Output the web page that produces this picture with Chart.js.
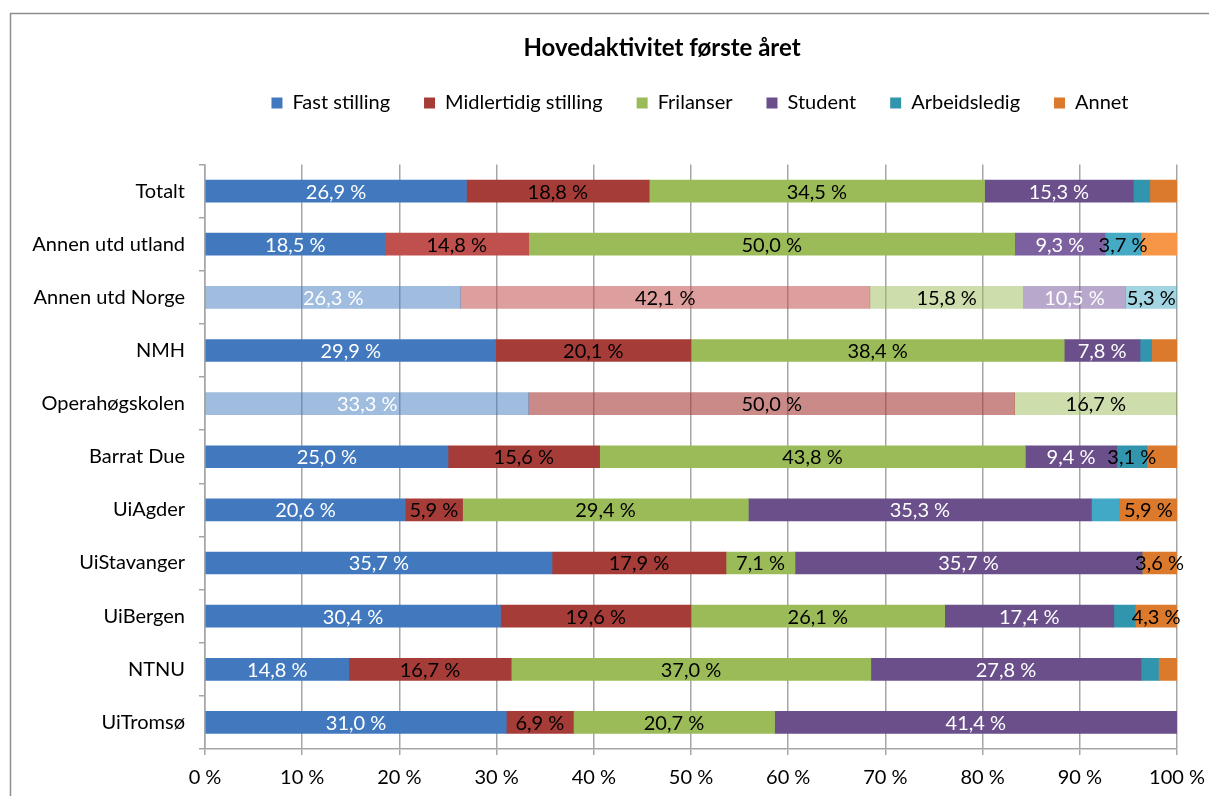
<!DOCTYPE html>
<html>
<head>
<meta charset="utf-8">
<script src="https://cdn.jsdelivr.net/npm/chart.js@4.4.0/dist/chart.umd.min.js"></script>
<style>
  html, body { margin: 0; padding: 0; background: #fff; }
  #wrap { width: 1209px; height: 796px; }
</style>
</head>
<body>
<div id="wrap"><canvas id="chart"></canvas></div>
<script>
const categories = ['Totalt', 'Annen utd utland', 'Annen utd Norge', 'NMH', 'Operahøgskolen',
  'Barrat Due', 'UiAgder', 'UiStavanger', 'UiBergen', 'NTNU', 'UiTromsø'];
const seriesNames = ['Fast stilling', 'Midlertidig stilling', 'Frilanser', 'Student', 'Arbeidsledig', 'Annet'];

const fastStilling = [26.9, 18.5, 26.3, 29.9, 33.3, 25.0, 20.6, 35.7, 30.4, 14.8, 31.0];
const midlertidig  = [18.8, 14.8, 42.1, 20.1, 50.0, 15.6, 5.9, 17.9, 19.6, 16.7, 6.9];
const frilanser    = [34.5, 50.0, 15.8, 38.4, 16.7, 43.8, 29.4, 7.1, 26.1, 37.0, 20.7];
const student      = [15.3, 9.3, 10.5, 7.8, 0, 9.4, 35.3, 35.7, 17.4, 27.8, 41.4];
const arbeidsledig = [1.7, 3.7, 5.3, 1.2, 0, 3.1, 2.9, 0, 2.2, 1.8, 0];
const annet        = [2.8, 3.7, 0, 2.6, 0, 3.1, 5.9, 3.6, 4.3, 1.9, 0];

const xTicks = [0, 10, 20, 30, 40, 50, 60, 70, 80, 90, 100];

// segments where the original had no data label
const hiddenLabels = {
  'Totalt': [4, 5], 'Annen utd utland': [5], 'NMH': [4, 5], 'Barrat Due': [5],
  'UiAgder': [4], 'UiBergen': [4], 'NTNU': [4, 5],
};

const palette = {
  normal: ['#4279be', '#a63c38', '#9bbb59', '#6a4f8b', '#3196ad', '#db7a2d'],
  bright: ['#4279be', '#c0504d', '#9bbb59', '#7d60a0', '#46aac5', '#f79646'],
  fadedLight: ['rgba(66,121,190,0.5)', 'rgba(192,80,77,0.55)', 'rgba(155,187,89,0.5)',
    'rgba(125,96,160,0.55)', 'rgba(70,170,197,0.5)', 'rgba(247,150,70,0.5)'],
  fadedDark: ['rgba(66,121,190,0.5)', 'rgba(166,60,56,0.6)', 'rgba(155,187,89,0.5)',
    'rgba(106,79,139,0.5)', 'rgba(49,150,173,0.5)', 'rgba(219,122,45,0.5)'],
};
const rowStyle = { 'Annen utd utland': 'bright', 'Annen utd Norge': 'fadedLight', 'Operahøgskolen': 'fadedDark' };
const rowOverride = { 'UiAgder': { 4: '#41a9c6' } };

function colorFor(row, s) {
  const cat = categories[row];
  if (rowOverride[cat] && rowOverride[cat][s]) return rowOverride[cat][s];
  return palette[rowStyle[cat] || 'normal'][s];
}

const FONT = 'Lato';
const FS = 20;
Chart.defaults.font.family = FONT;
Chart.defaults.font.size = FS;
Chart.defaults.color = '#000';

const frame = {
  id: 'frame',
  beforeDraw(chart) {
    const ctx = chart.ctx;
    ctx.save();
    ctx.strokeStyle = '#8e8e8e';
    ctx.lineWidth = 1.5;
    ctx.strokeRect(10.5, 13.5, 1400, 1000);
    ctx.restore();
  },
};

// move title and legend to where the original has them
const header = {
  id: 'header',
  afterLayout(chart) {
    const t = chart.titleBlock, l = chart.legend;
    const dxT = 662 - (t.left + t.right) / 2;
    t.left += dxT; t.right += dxT;
    const dxL = 700 - (l.left + l.right) / 2;
    l.left += dxL; l.right += dxL;
    const dyL = 103 - (l.top + 34 + FS / 2);
    l.top += dyL; l.bottom += dyL;
  },
};

const segLabels = {
  id: 'segLabels',
  afterDatasetsDraw(chart) {
    const ctx = chart.ctx;
    ctx.save();
    ctx.font = FS + 'px ' + FONT;
    ctx.textAlign = 'center';
    ctx.textBaseline = 'middle';
    chart.data.datasets.forEach((ds, si) => {
      chart.getDatasetMeta(si).data.forEach((bar, ci) => {
        const v = ds.data[ci];
        if (!v || (hiddenLabels[categories[ci]] || []).includes(si)) return;
        ctx.fillStyle = (si === 0 || si === 3) ? '#fff' : '#000';
        ctx.fillText(v.toFixed(1).replace('.', ',') + ' %', (bar.x + bar.base) / 2, bar.y + 1);
      });
    });
    ctx.restore();
  },
};

const seriesData = [fastStilling, midlertidig, frilanser, student, arbeidsledig, annet];

new Chart(document.getElementById('chart'), {
  type: 'bar',
  data: {
    labels: categories,
    datasets: seriesData.map((values, si) => ({
      label: seriesNames[si],
      data: values,
      backgroundColor: (ctx) => ctx.dataIndex === undefined ? palette.normal[si] : colorFor(ctx.dataIndex, si),
      borderWidth: 0,
      barThickness: 22,
    })),
  },
  options: {
    indexAxis: 'y',
    responsive: true,
    maintainAspectRatio: false,
    animation: false,
    events: [],
    layout: { padding: { top: 34, left: 10, right: 32, bottom: 0 } },
    plugins: {
      tooltip: { enabled: false },
      title: {
        display: true,
        text: 'Hovedaktivitet første året',
        font: { size: 24, weight: 'bold' },
        padding: { top: 0, bottom: 37.7 },
      },
      legend: {
        position: 'top',
        labels: {
          boxWidth: 11,
          boxHeight: 11,
          padding: 34,
          font: { size: FS },
          generateLabels: () => seriesNames.map((n, i) => ({
            text: n, fillStyle: palette.normal[i], strokeStyle: palette.normal[i],
            lineWidth: 0, datasetIndex: i, hidden: false,
          })),
        },
      },
    },
    scales: {
      x: {
        stacked: true,
        min: 0,
        max: 100,
        afterBuildTicks: (scale) => { scale.ticks = xTicks.map((v) => ({ value: v })); },
        afterFit: (scale) => { scale.height = 47; scale.paddingLeft = 0; scale.paddingRight = 0; },
        ticks: { padding: 11, callback: (v) => v + ' %' },
        grid: { color: '#a6a6a6', lineWidth: 1.5, tickLength: 6 },
        border: { color: '#a6a6a6', width: 1.5 },
      },
      y: {
        stacked: true,
        afterFit: (scale) => { scale.width = 195; },
        ticks: { padding: 14 },
        grid: { drawOnChartArea: false, offset: true, color: '#a6a6a6', lineWidth: 1.5, tickLength: 6 },
        border: { color: '#a6a6a6', width: 1.5 },
      },
    },
  },
  plugins: [frame, header, segLabels],
});
</script>
</body>
</html>
